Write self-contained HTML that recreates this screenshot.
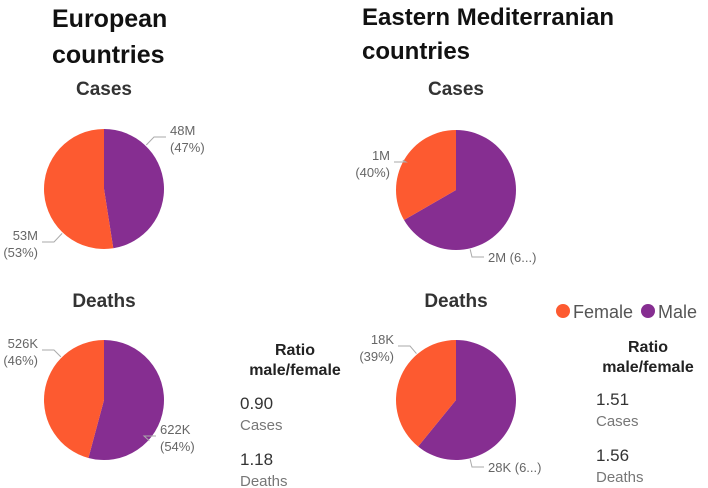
<!DOCTYPE html>
<html><head><meta charset="utf-8"><style>
body{margin:0;background:#fff;}
svg{display:block;font-family:"Segoe UI","Liberation Sans",sans-serif;}
</style></head><body>
<svg id="c" width="708" height="488" viewBox="0 0 708 488">
<text x="52" y="27" font-size="25" font-weight="bold" fill="#111">European</text>
<text x="52" y="63" font-size="25" font-weight="bold" fill="#111">countries</text>
<text x="362" y="25" font-size="24" font-weight="bold" fill="#111">Eastern Mediterranian</text>
<text x="362" y="59" font-size="24" font-weight="bold" fill="#111">countries</text>
<text x="104" y="95" font-size="19" font-weight="bold" fill="#333" text-anchor="middle">Cases</text>
<text x="456" y="95" font-size="19" font-weight="bold" fill="#333" text-anchor="middle">Cases</text>
<text x="104" y="307" font-size="19" font-weight="bold" fill="#333" text-anchor="middle">Deaths</text>
<text x="456" y="307" font-size="19" font-weight="bold" fill="#333" text-anchor="middle">Deaths</text>
<g>
<circle cx="563" cy="311" r="7" fill="#fd5a30"/>
<text x="573" y="318" font-size="18" fill="#555">Female</text>
<circle cx="648" cy="311" r="7" fill="#862e91"/>
<text x="658" y="318" font-size="18" fill="#555">Male</text>
</g>
<g font-size="16">
<text x="295" y="355" font-weight="bold" fill="#222" text-anchor="middle">Ratio</text>
<text x="295" y="375" font-weight="bold" fill="#222" text-anchor="middle">male/female</text>
<text x="240" y="409" fill="#333" font-size="17">0.90</text>
<text x="240" y="430" fill="#777" font-size="15">Cases</text>
<text x="240" y="465" fill="#333" font-size="17">1.18</text>
<text x="240" y="486" fill="#777" font-size="15">Deaths</text>
</g>
<g font-size="16">
<text x="648" y="352" font-weight="bold" fill="#222" text-anchor="middle">Ratio</text>
<text x="648" y="372" font-weight="bold" fill="#222" text-anchor="middle">male/female</text>
<text x="596" y="405" fill="#333" font-size="17">1.51</text>
<text x="596" y="426" fill="#777" font-size="15">Cases</text>
<text x="596" y="461" fill="#333" font-size="17">1.56</text>
<text x="596" y="482" fill="#777" font-size="15">Deaths</text>
</g>
<g id="pies"></g>
</svg>
<script>
const pieNames = ['europe-cases','em-cases','europe-deaths','em-deaths'];
const femaleValues = [53, 1, 526, 18];
const maleValues = [48, 2, 622, 28];
const femaleLabels = ['53M','(53%)','1M','(40%)','526K','(46%)','18K','(39%)'];
const maleLabels = ['48M','(47%)','2M (6...)','','622K','(54%)','28K (6...)',''];
const centers = [[104,189],[456,190],[104,400],[456,400]];
// label anchor layout (end of leader line), [x, y, side]
const maleAnchor = [[166,137,1],[484,257,1],[156,436,1],[484,467,1]];
const femaleAnchor = [[42,242,-1],[394,162,-1],[42,350,-1],[398,346,-1]];
const R = 60;
const NS = 'http://www.w3.org/2000/svg';
const g = document.getElementById('pies');
function pt(c, a, r){ return [c[0]+r*Math.sin(a), c[1]-r*Math.cos(a)]; }
function arc(c, a0, a1){
  const p0 = pt(c,a0,R), p1 = pt(c,a1,R);
  const large = (a1-a0) > Math.PI ? 1 : 0;
  return `M${c[0]},${c[1]}L${p0[0]},${p0[1]}A${R},${R} 0 ${large} 1 ${p1[0]},${p1[1]}Z`;
}
function addText(x,y,t,anchor){
  const e=document.createElementNS(NS,'text');
  e.setAttribute('x',x);e.setAttribute('y',y);e.setAttribute('font-size','13');
  e.setAttribute('fill','#666');e.setAttribute('text-anchor',anchor);e.textContent=t;
  
  
  g.appendChild(e);
}
function addLine(pts){
  const e=document.createElementNS(NS,'polyline');
  e.setAttribute('points',pts.map(p=>p.join(',')).join(' '));
  e.setAttribute('fill','none');e.setAttribute('stroke','#aaa');e.setAttribute('stroke-width','1');
  
  
  g.appendChild(e);
}
function label(c, anc, l1, l2){
  const side = anc[2];
  const knee = [anc[0] - side*12, anc[1]];
  const a = Math.atan2(knee[0]-c[0], -(knee[1]-c[1]));
  const p = pt(c, a, R+1);
  addLine([p,knee,[anc[0],anc[1]]]);
  const tx = anc[0] + side*4, ta = side>0?'start':'end';
  if(l2){ addText(tx, anc[1]-2, l1, ta); addText(tx, anc[1]+15, l2, ta); }
  else addText(tx, anc[1]+5, l1, ta);
}
for(let i=0;i<4;i++){
  const c=centers[i], tot=femaleValues[i]+maleValues[i];
  const m = 2*Math.PI*(maleValues[i]/tot);
  const ms=document.createElementNS(NS,'path');
  ms.setAttribute('d',arc(c,0,m));ms.setAttribute('fill','#862e91');
  
  
  g.appendChild(ms);
  const fs=document.createElementNS(NS,'path');
  fs.setAttribute('d',arc(c,m,2*Math.PI));fs.setAttribute('fill','#fd5a30');
  
  
  g.appendChild(fs);
  label(c, maleAnchor[i], maleLabels[2*i], maleLabels[2*i+1]);
  label(c, femaleAnchor[i], femaleLabels[2*i], femaleLabels[2*i+1]);
}
</script>
</body></html>
